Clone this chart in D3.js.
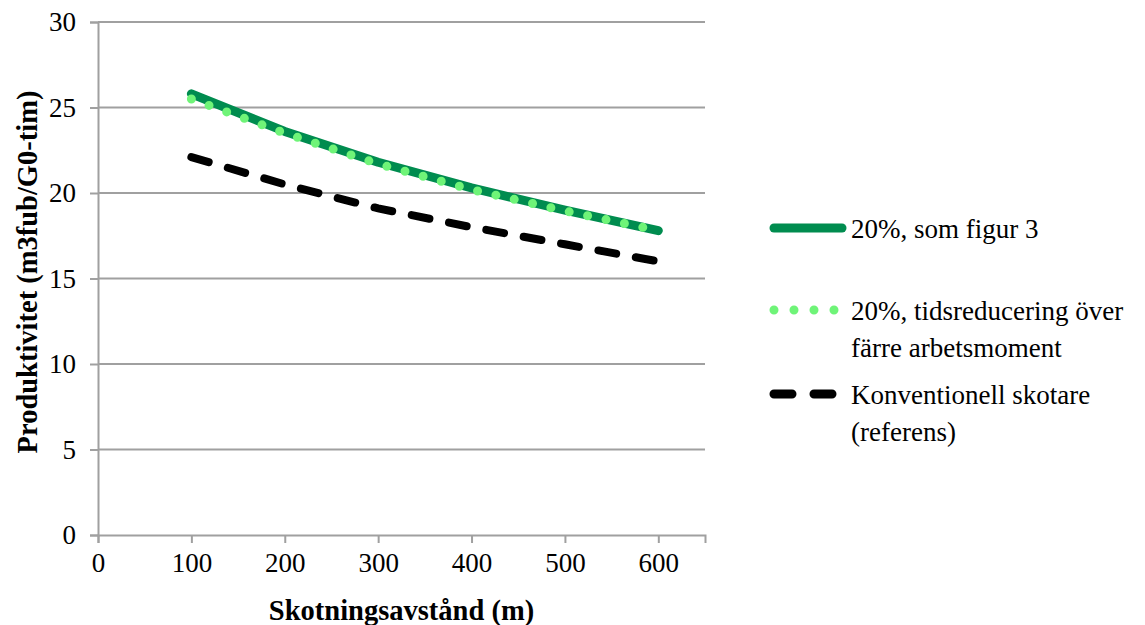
<!DOCTYPE html>
<html><head><meta charset="utf-8">
<script src="https://cdn.jsdelivr.net/npm/d3@7"></script>
<style>body{margin:0;background:#fff}svg text{font-family:"Liberation Serif",serif}</style>
</head><body><svg id="c" width="1145" height="625"></svg>
<script>
const distances = [100, 200, 300, 400, 500, 600];
const somFigur3 = [25.8, 23.6, 21.8, 20.3, 19.0, 17.8];
const tidsreducering = [25.5, 23.5, 21.7, 20.2, 18.95, 17.8];
const konventionell = [22.1, 20.5, 19.1, 18.0, 17.0, 16.0];
const xTicks = [0, 100, 200, 300, 400, 500, 600];
const yTicks = [0, 5, 10, 15, 20, 25, 30];
const seriesNames = ["20%, som figur 3", "20%, tidsreducering över|färre arbetsmoment", "Konventionell skotare|(referens)"];

const svg = d3.select("#c");
const L = 98, R = 705, T = 22, B = 535;
const x = d3.scaleLinear().domain([0, 650]).range([L, R]);
const y = d3.scaleLinear().domain([0, 30]).range([B, T]);
const grey = "#a0a0a0";
const fs = 27;

svg.append("g").selectAll("line").data(yTicks.filter(d => d > 0)).join("line")
  .attr("x1", L).attr("x2", R).attr("y1", d => y(d)).attr("y2", d => y(d))
  .attr("stroke", grey).attr("stroke-width", 2);

const yAxis = svg.append("g").attr("transform", `translate(${L},0)`)
  .call(d3.axisLeft(y).tickValues(yTicks).tickSize(8).tickPadding(14));
const xAxis = svg.append("g").attr("transform", `translate(0,${B})`)
  .call(d3.axisBottom(x).tickValues(xTicks).tickSize(8).tickPadding(10));
[yAxis, xAxis].forEach(a => {
  a.select(".domain").attr("stroke", grey).attr("stroke-width", 2);
  a.selectAll(".tick line").attr("stroke", grey).attr("stroke-width", 2);
  a.selectAll(".tick text").attr("font-size", fs).attr("fill", "#000").attr("font-family", "Liberation Serif");
});

const mk = vals => distances.map((d, i) => [d, vals[i]]);
const line = d3.line().x(d => x(d[0])).y(d => y(d[1]));

svg.append("path").attr("d", line(mk(somFigur3))).attr("fill", "none")
  .attr("stroke", "#008c4f").attr("stroke-width", 9).attr("stroke-linecap", "round").attr("stroke-linejoin", "round");
svg.append("path").attr("d", line(mk(tidsreducering))).attr("fill", "none")
  .attr("stroke", "#6ff478").attr("stroke-width", 9).attr("stroke-linecap", "round").attr("stroke-dasharray", "0 18.8");
svg.append("path").attr("d", line(mk(konventionell))).attr("fill", "none")
  .attr("stroke", "#000").attr("stroke-width", 8).attr("stroke-linecap", "round").attr("stroke-dasharray", "18 20");

const lg = svg.append("g");
const lx1 = 774, lx2 = 842, tx = 851;
const legY = [228, 310, 394];
lg.append("line").attr("x1", lx1).attr("x2", lx2).attr("y1", legY[0]).attr("y2", legY[0])
  .attr("stroke", "#008c4f").attr("stroke-width", 9).attr("stroke-linecap", "round");
lg.append("line").attr("x1", lx1).attr("x2", lx2).attr("y1", legY[1]).attr("y2", legY[1])
  .attr("stroke", "#6ff478").attr("stroke-width", 9).attr("stroke-linecap", "round").attr("stroke-dasharray", "0 20");
lg.append("line").attr("x1", lx1).attr("x2", lx2).attr("y1", legY[2]).attr("y2", legY[2])
  .attr("stroke", "#000").attr("stroke-width", 9).attr("stroke-linecap", "round").attr("stroke-dasharray", "18 22");
seriesNames.forEach((n, i) => {
  const t = lg.append("text").attr("x", tx).attr("y", legY[i] + 10).attr("font-size", fs);
  n.split("|").forEach((s, j) => t.append("tspan").attr("x", tx).attr("dy", j === 0 ? 0 : 37).text(s));
});

svg.append("text").attr("x", (L + R) / 2).attr("y", 620).attr("text-anchor", "middle")
  .attr("font-size", 28.5).attr("font-weight", "bold").text("Skotningsavstånd (m)");
svg.append("text").attr("transform", `translate(37,272) rotate(-90)`).attr("text-anchor", "middle")
  .attr("font-size", 28.5).attr("font-weight", "bold").text("Produktivitet (m3fub/G0-tim)");
</script></body></html>
